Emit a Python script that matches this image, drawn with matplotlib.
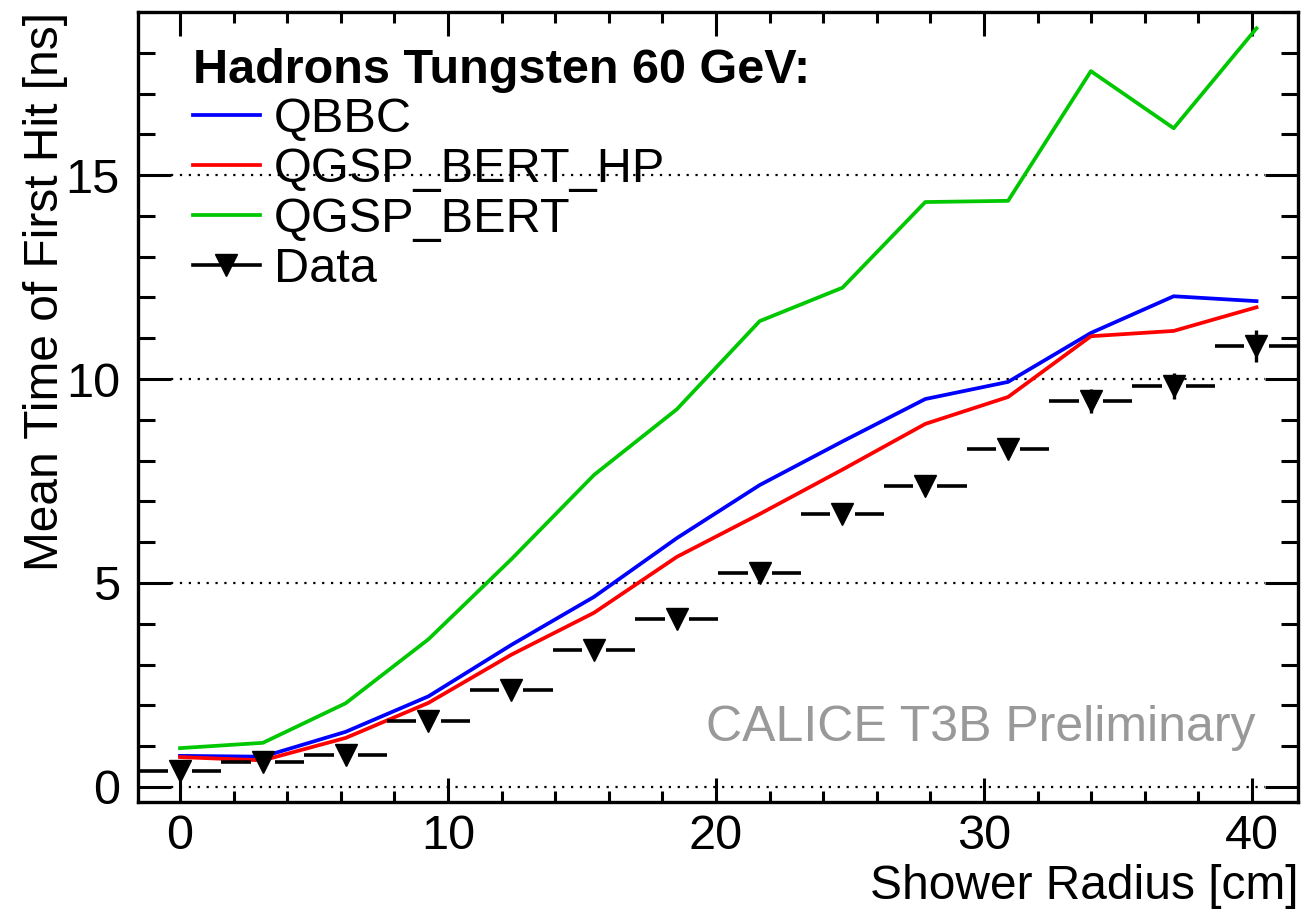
import matplotlib
matplotlib.use("Agg")
import matplotlib.pyplot as plt
from matplotlib.lines import Line2D
from matplotlib.ticker import MultipleLocator
import numpy as np

# shower radius bins [cm]
radius = [0.0, 3.09, 6.18, 9.27, 12.36, 15.45, 18.54, 21.63, 24.72, 27.81, 30.9, 33.99, 37.08, 40.17]
bin_half = 1.545

# mean time of first hit [ns]
qbbc = [0.76, 0.74, 1.35, 2.22, 3.48, 4.66, 6.10, 7.40, 8.47, 9.51, 9.93, 11.13, 12.03, 11.91]
qgsp_bert_hp = [0.73, 0.65, 1.20, 2.06, 3.24, 4.27, 5.64, 6.69, 7.78, 8.90, 9.56, 11.05, 11.18, 11.76]
qgsp_bert = [0.95, 1.08, 2.05, 3.62, 5.58, 7.65, 9.26, 11.42, 12.24, 14.34, 14.37, 17.55, 16.15, 18.60]
data = [0.39, 0.62, 0.78, 1.62, 2.37, 3.36, 4.12, 5.25, 6.69, 7.37, 8.28, 9.46, 9.83, 10.81]
data_err = [0.05, 0.05, 0.05, 0.08, 0.08, 0.10, 0.10, 0.10, 0.12, 0.15, 0.15, 0.30, 0.33, 0.40]

plt.rcParams["font.family"] = ["Liberation Sans", "DejaVu Sans"]
FS = 35

fig = plt.figure(figsize=(13.13, 9.16), dpi=100)
ax = fig.add_axes([0.1051, 0.1245, 0.8835, 0.8624])

ax.set_xlim(-1.57, 41.72)
ax.set_ylim(-0.37, 19.0)

# dotted grid at the major y ticks, stopping at the tick ends
for yv in [0, 5, 10, 15]:
    ax.axhline(yv, xmin=0.0285, xmax=0.9715, color="black", lw=1.6,
               linestyle=(0, (1, 3)), zorder=1)

lw = 2.7
ax.plot(radius, qbbc, color="#0000ff", lw=lw, zorder=3)
ax.plot(radius, qgsp_bert_hp, color="#ff0000", lw=lw, zorder=3)
ax.plot(radius, qgsp_bert, color="#00c800", lw=lw, zorder=3)

x = np.array(radius)
y = np.array(data)
gap = 0.45
ax.errorbar(x, y, yerr=data_err, fmt="none", ecolor="black", elinewidth=2.4,
            capsize=0, zorder=4)
ax.hlines(y, x - bin_half, x - gap, color="black", lw=2.6, zorder=4)
ax.hlines(y, x + gap, x + bin_half, color="black", lw=2.6, zorder=4)
ax.plot(x, y, "v", color="black", ms=16, zorder=5)

# ROOT style axes: inward ticks on all four sides
ax.xaxis.set_major_locator(MultipleLocator(10))
ax.xaxis.set_minor_locator(MultipleLocator(2))
ax.yaxis.set_major_locator(MultipleLocator(5))
ax.yaxis.set_minor_locator(MultipleLocator(1))
ax.tick_params(axis="both", which="both", direction="in", top=True, right=True,
               width=2.2, labelsize=FS)
ax.tick_params(axis="x", which="major", length=17, pad=9)
ax.tick_params(axis="x", which="minor", length=8)
ax.tick_params(axis="y", which="major", length=24, pad=13)
ax.tick_params(axis="y", which="minor", length=12)
for sp in ax.spines.values():
    sp.set_linewidth(2.4)

ax.set_xlabel("Shower Radius [cm]", fontsize=34.5, loc="right")
ax.xaxis.set_label_coords(1.0, -0.079)
ax.set_ylabel("Mean Time of First Hit [ns]", fontsize=34.5, loc="top")
ax.yaxis.set_label_coords(-0.06, 1.0)

handles = [
    Line2D([], [], color="#0000ff", lw=lw),
    Line2D([], [], color="#ff0000", lw=lw),
    Line2D([], [], color="#00c800", lw=lw),
    Line2D([], [], color="black", lw=2.6, marker="v", ms=16),
]
labels = ["QBBC", "QGSP_BERT_HP", "QGSP_BERT", "Data"]
leg = ax.legend(handles, labels, loc="upper left", bbox_to_anchor=(0.047, 0.955),
                frameon=False, fontsize=FS, title="Hadrons Tungsten 60 GeV:",
                title_fontproperties={"weight": "bold", "size": 35},
                alignment="left", handlelength=1.38, handletextpad=0.29,
                labelspacing=0.1, borderpad=0.0, borderaxespad=0.0)

ax.text(0.963, 0.094, "CALICE T3B Preliminary", transform=ax.transAxes,
        fontsize=36, color="#999999", ha="right", va="center")

fig.savefig("out.png", dpi=100)
